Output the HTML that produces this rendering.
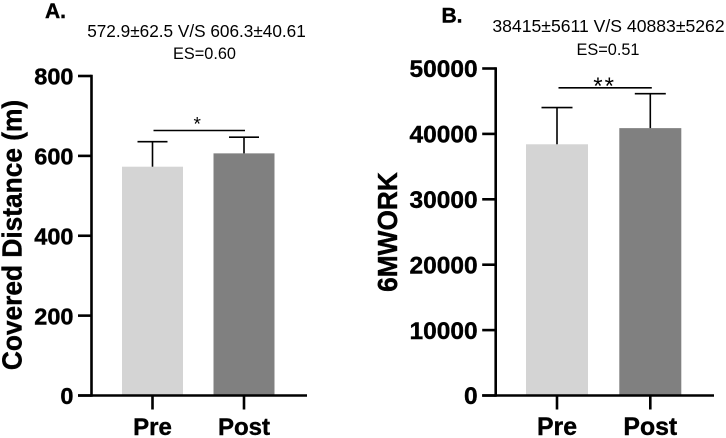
<!DOCTYPE html>
<html>
<head>
<meta charset="utf-8">
<style>
html,body{margin:0;padding:0;background:#fff;width:726px;height:438px;overflow:hidden}
svg{display:block}
text{font-family:"Liberation Sans",sans-serif;fill:#000}
.b{font-weight:bold;stroke:#000;stroke-width:.4px}
</style>
</head>
<body>
<svg id="fig" width="726" height="438" viewBox="0 0 726 438" xmlns="http://www.w3.org/2000/svg">
  <rect width="726" height="438" fill="#fff"/>
  <text class="b" x="45" y="18" font-size="21">A.</text>
  <text x="196.5" y="37" font-size="17.2" text-anchor="middle">572.9±62.5 V/S 606.3±40.61</text>
  <text x="204.5" y="59" font-size="16.3" text-anchor="middle">ES=0.60</text>
  <text class="b" transform="translate(21.7,235) rotate(-90) scale(1,1.06)" font-size="26.3" text-anchor="middle">Covered Distance (m)</text>
  <text class="b" x="441.5" y="22.5" font-size="21">B.</text>
  <text x="608.5" y="32" font-size="17.6" text-anchor="middle">38415±5611 V/S 40883±5262</text>
  <text x="608" y="55" font-size="16.3" text-anchor="middle">ES=0.51</text>
  <text class="b" transform="translate(397,232) rotate(-90) scale(1,1.06)" font-size="26.3" text-anchor="middle">6MWORK</text>
  <g id="panelA"></g>
  <g id="panelB"></g>
</svg>
<script>
const categories = ['Pre', 'Post'];
const barColors = ['#d4d4d4', '#808080'];

const aMeans = [572.9, 606.3];
const aErrors = [62.5, 40.61];
const aTicks = [0, 200, 400, 600, 800];
const aSignificance = '*';

const bMeans = [38415, 40883];
const bErrors = [5611, 5262];
const bTicks = [0, 10000, 20000, 30000, 40000, 50000];
const bSignificance = '**';

const NS = 'http://www.w3.org/2000/svg';

function make(parent, tag, attrs, txt) {
  const el = document.createElementNS(NS, tag);
  for (const k in attrs) el.setAttribute(k, attrs[k]);
  if (txt !== undefined) el.textContent = txt;
  parent.appendChild(el);
  return el;
}

function drawPanel(cfg) {
  const g = document.getElementById(cfg.id);
  const yMax = cfg.ticks[cfg.ticks.length - 1];
  const yScale = v => cfg.y0 - (v / yMax) * (cfg.y0 - cfg.yTop);
  const barCenter = i => cfg.firstCenter + i * cfg.step;

  cfg.means.forEach((m, i) => {
    const cx = barCenter(i);
    const bar = make(g, 'rect', {x: cx - cfg.barW / 2, y: yScale(m), width: cfg.barW, height: cfg.y0 - yScale(m), fill: barColors[i]});
    
    

    const top = yScale(m + cfg.errors[i]);
    const stem = make(g, 'line', {x1: cx, x2: cx, y1: yScale(m), y2: top, stroke: '#000', 'stroke-width': 1.6});
    
    

    const cap = make(g, 'line', {x1: cx - cfg.capW / 2, x2: cx + cfg.capW / 2, y1: top, y2: top, stroke: '#000', 'stroke-width': 1.6});
    
    

    const xt = make(g, 'line', {x1: cx, x2: cx, y1: cfg.y0, y2: cfg.y0 + 14, stroke: '#000', 'stroke-width': 2.6});
    
    

    const xl = make(g, 'text', {x: cx + cfg.labelDx, y: 435, 'font-size': cfg.labelFont, 'text-anchor': 'middle', class: 'b'}, categories[i]);
    
    
  });

  cfg.ticks.forEach(t => {
    const y = yScale(t);
    const tick = make(g, 'line', {x1: cfg.axisX - 13.5, x2: cfg.axisX, y1: y, y2: y, stroke: '#000', 'stroke-width': 2.6});
    
    

    const label = make(g, 'text', {x: cfg.axisX - 18, y: y + 8.7, 'font-size': cfg.tickFont, 'text-anchor': 'end', class: 'b'}, String(t));
    
    
  });

  const yAxis = make(g, 'line', {x1: cfg.axisX, x2: cfg.axisX, y1: cfg.yTop - 1.3, y2: cfg.y0 + 1.3, stroke: '#000', 'stroke-width': 2.6});
  
  

  const xAxis = make(g, 'line', {x1: cfg.axisX - 13.5, x2: cfg.xEnd, y1: cfg.y0, y2: cfg.y0, stroke: '#000', 'stroke-width': 2.6});
  
  

  const sig = make(g, 'line', {x1: barCenter(0) + cfg.sigInset, x2: barCenter(1) + cfg.sigInset, y1: cfg.sigY, y2: cfg.sigY, stroke: '#000', 'stroke-width': 1.6});
  
  

  const star = make(g, 'text', {x: (barCenter(0) + barCenter(1)) / 2 + cfg.starDx, y: cfg.sigY + cfg.starDy, 'font-size': cfg.starFont, 'text-anchor': 'middle', 'letter-spacing': cfg.starSpace}, cfg.sig);
  
  
}

drawPanel({
  id: 'panelA', means: aMeans, errors: aErrors, ticks: aTicks, sig: aSignificance,
  y0: 395.5, yTop: 76, axisX: 91.5, xEnd: 307, firstCenter: 152.5, step: 91.5, barW: 61, capW: 30,
  sigInset: 1, sigY: 130.5, starDx: -1, starDy: 0, starFont: 19, starSpace: 0, tickFont: 23.5, labelFont: 24, labelDx: 0
});
drawPanel({
  id: 'panelB', means: bMeans, errors: bErrors, ticks: bTicks, sig: bSignificance,
  y0: 395.5, yTop: 68.5, axisX: 495.7, xEnd: 714, firstCenter: 557, step: 93.3, barW: 62, capW: 31,
  sigInset: 1.5, sigY: 87.8, starDx: 1, starDy: 6, starFont: 24, starSpace: 2, tickFont: 24.5, labelFont: 24.8, labelDx: 0
});
</script>
</body>
</html>
